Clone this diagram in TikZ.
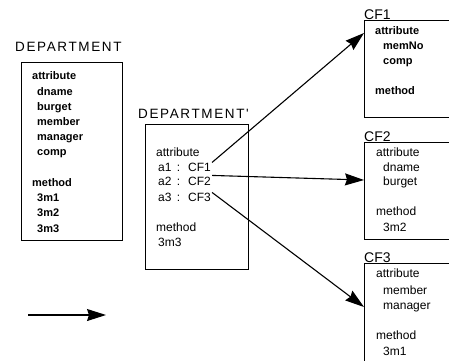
\documentclass[tikz,border=0pt]{standalone}
\usepackage{fontspec}
\setmainfont{Liberation Sans}
\newfontfamily\labelfont[LetterSpace=12]{Liberation Sans}
\usetikzlibrary{arrows.meta,calc}
\tikzset{
  box/.style={draw, line width=0.9pt, inner sep=0pt, anchor=north west},
  txt/.style={anchor=base west, inner sep=0pt, font=\fontsize{12}{14}\selectfont},
  btxt/.style={txt, font=\fontsize{11}{13}\selectfont\bfseries},
  title/.style={anchor=base west, inner sep=0pt, font=\labelfont\fontsize{13.5}{15}\selectfont},
  cftitle/.style={anchor=base west, inner sep=0pt, font=\fontsize{14}{16}\selectfont},
  link/.style={line width=1.1pt, -{Stealth[length=19pt,width=12pt,inset=2pt]}}
}
\begin{document}
\begin{tikzpicture}[x=1pt,y=-1pt]
\useasboundingbox (0,0) rectangle (449,360);
% DEPARTMENT
\node[title] (dtitle) at (15,51) {DEPARTMENT};
\node[box, minimum width=101pt, minimum height=178pt] (dbox) at (21,62) {};
\node[btxt] (d1) at (32,79) {attribute};
\node[btxt] (d2) at (37,95) {dname};
\node[btxt] (d3) at (37,110) {burget};
\node[btxt] (d4) at (37,125) {member};
\node[btxt] (d5) at (37,140) {manager};
\node[btxt] (d6) at (37,155) {comp};
\node[btxt] (d7) at (32,186) {method};
\node[btxt] (d8) at (37,201) {3m1};
\node[btxt] (d9) at (37,216) {3m2};
\node[btxt] (d10) at (37,232) {3m3};
% DEPARTMENT'
\node[title] (ptitle) at (138,118) {DEPARTMENT'};
\node[box, minimum width=103pt, minimum height=145pt] (pbox) at (145,124) {};
\node[txt] (p1) at (156,156) {attribute};
\node[txt] (pa1) at (158,171) {a1 \,:};
\node[txt] (c1) at (188,171) {CF1};
\node[txt] (pa2) at (158,185) {a2 \,:};
\node[txt] (c2) at (188,185) {CF2};
\node[txt] (pa3) at (158,201) {a3 \,:};
\node[txt] (c3) at (188,201) {CF3};
\node[txt] (p5) at (156,231) {method};
\node[txt] (p6) at (158,246) {3m3};
% CF1
\node[cftitle] (t1) at (364,19) {CF1};
\node[box, minimum width=92pt, minimum height=97pt] (cfA) at (364,20) {};
\node[btxt] (a1) at (375,34) {attribute};
\node[btxt] (a2) at (383,49) {memNo};
\node[btxt] (a3) at (383,64) {comp};
\node[btxt] (a4) at (375,94) {method};
% CF2
\node[cftitle] (t2) at (364,141) {CF2};
\node[box, minimum width=92pt, minimum height=97pt] (cfB) at (364,142) {};
\node[txt] (b1) at (376,156) {attribute};
\node[txt] (b2) at (383,171) {dname};
\node[txt] (b3) at (383,185) {burget};
\node[txt] (b4) at (376,215) {method};
\node[txt] (b5) at (383,231) {3m2};
% CF3
\node[cftitle] (t3) at (364,262) {CF3};
\node[box, minimum width=92pt, minimum height=110pt] (cfC) at (364,263) {};
\node[txt] (e1) at (376,277) {attribute};
\node[txt] (e2) at (383,294) {member};
\node[txt] (e3) at (383,309) {manager};
\node[txt] (e4) at (376,339) {method};
\node[txt] (e5) at (383,355) {3m1};
% links
\draw[link] ($(c1.north east)+(1,0)$) -- ($(cfA.north west)+(0,13)$);
\draw[link] ($(c2.north east)+(1,-1)$) -- ($(cfB.north west)+(0,38)$);
\draw[link] ($(c3.north east)+(1,0)$) -- ($(cfC.north west)+(0,44)$);
% legend arrow
\coordinate (la) at (28,315);
\coordinate (lb) at (106,315);
\draw[link] (la) -- (lb);
\end{tikzpicture}
\end{document}
